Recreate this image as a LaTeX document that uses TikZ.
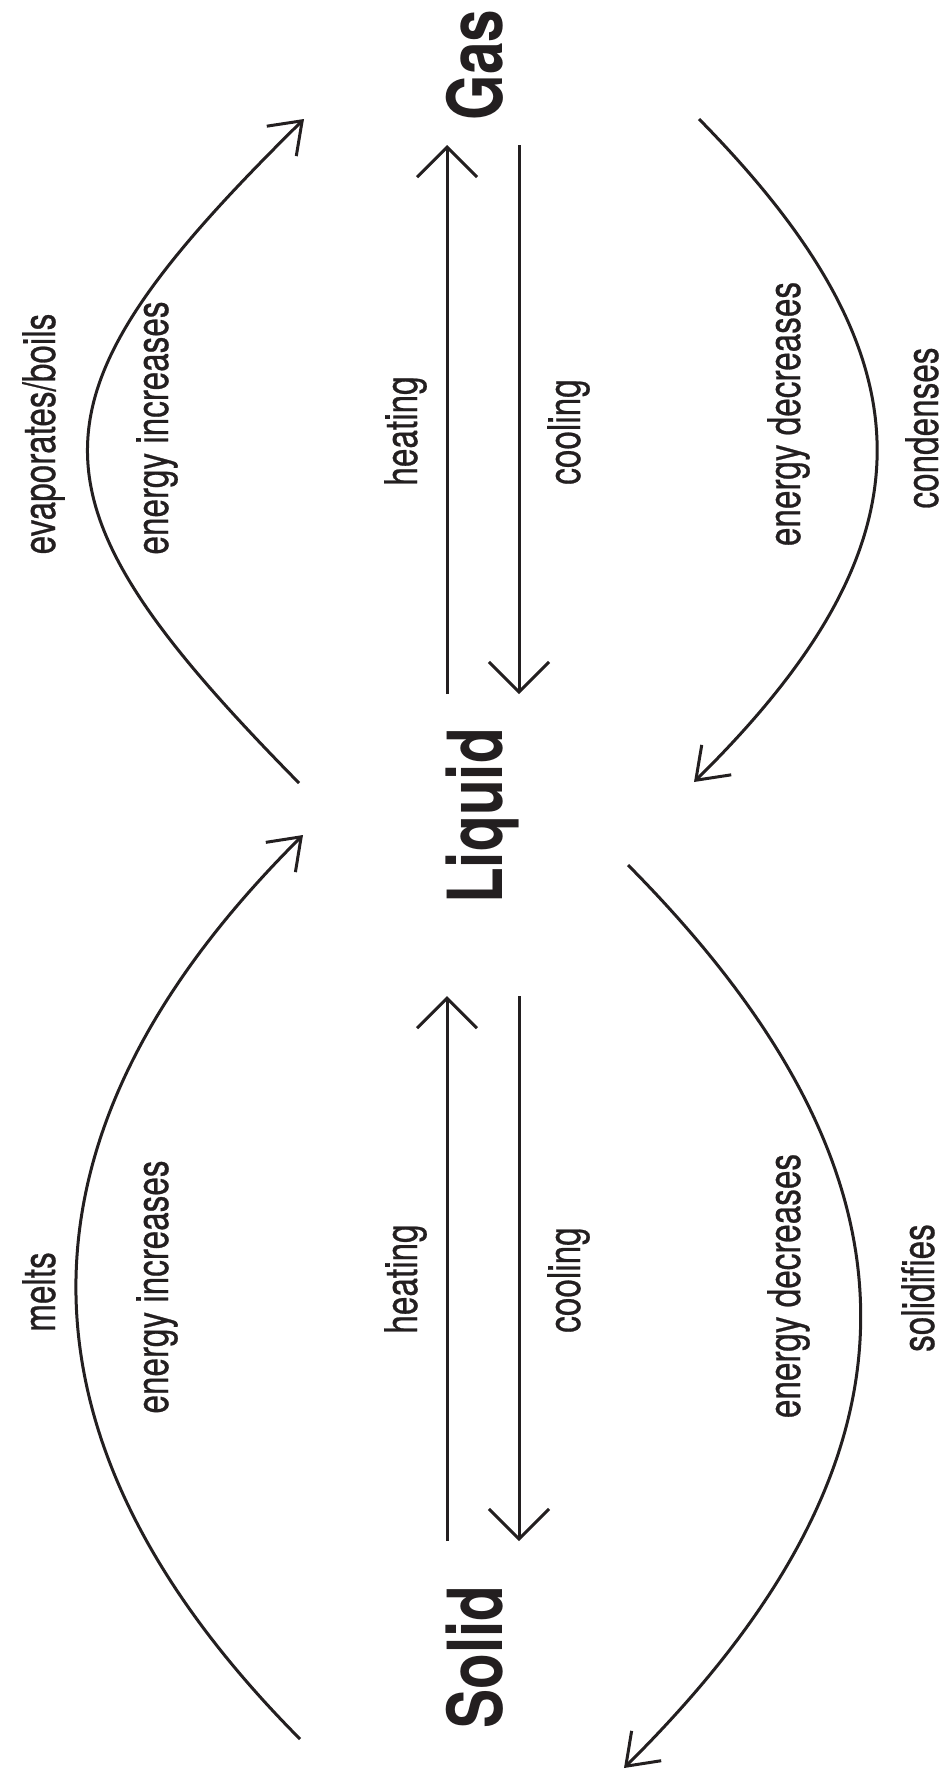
\documentclass[tikz,border=0pt]{standalone}
\usepackage{fontspec}
\setmainfont{TeX Gyre Heros}[FakeStretch=0.74, FakeBold=0.6]
\newfontfamily\phasefont{TeX Gyre Heros}[FakeStretch=0.77]
\usepackage{tikz}
\usetikzlibrary{arrows.meta}
\definecolor{ink}{HTML}{231F20}

\tikzset{
	phase/.style={rotate=90, anchor=base, inner sep=0pt, text=ink, font=\phasefont\bfseries\fontsize{76}{80}\selectfont},
	lbl/.style={rotate=90, anchor=base, inner sep=0pt, text=ink, font=\fontsize{45}{54}\selectfont},
	straight/.style={draw=ink, line width=3pt, -{Straight Barb[length=30pt,width=60pt]}},
	curved/.style={draw=ink, line width=3pt, -{Straight Barb[length=29pt,width=42pt]}}
}

\begin{document}
\begin{tikzpicture}[x=1pt, y=1pt]
	\useasboundingbox (0,0) rectangle (946,-1770);

	\node[phase] (gas) at (502, -65)     {Gas};
	\node[phase] (liquid) at (502, -816)     {Liquid};
	\node[phase] (solid) at (502, -1657)     {Solid};

	\coordinate (ev-s) at (299, -783);
	\coordinate (ev-e) at (304, -119);
	\coordinate (mt-s) at (300, -1739);
	\coordinate (mt-e) at (303, -835);
	\coordinate (cd-s) at (699, -119);
	\coordinate (cd-e) at (694, -782);
	\coordinate (sd-s) at (628, -865);
	\coordinate (sd-e) at (624, -1768);

	\coordinate (ha-s) at (447, -694);
	\coordinate (ha-e) at (447, -145);
	\coordinate (ca-s) at (519, -145);
	\coordinate (ca-e) at (519, -694);
	\coordinate (hb-s) at (447, -1541);
	\coordinate (hb-e) at (447, -996);
	\coordinate (cb-s) at (519, -996);
	\coordinate (cb-e) at (519, -1541);

	\path (ha-s) edge[straight] (ha-e);
	\path (ca-s) edge[straight] (ca-e);
	\path (hb-s) edge[straight] (hb-e);
	\path (cb-s) edge[straight] (cb-e);

	\path (ev-s) edge [curved, bend left=45, looseness=1.55] (ev-e);
	\path (mt-s) edge [curved, bend left=45, looseness=1.2] (mt-e);
	\path (cd-s) edge [curved, bend left=45, looseness=1.31] (cd-e);
	\path (sd-s) edge [curved, bend left=45, looseness=1.25] (sd-e);

	\node[lbl] (evap) at (55, -434)     {evaporates/boils};
	\node[lbl] (inc-a) at (168, -428)     {energy increases};
	\node[lbl] (heat-a) at (417, -431)     {heating};
	\node[lbl] (cool-a) at (580, -432)     {cooling};
	\node[lbl] (dec-a) at (800, -414)     {energy decreases};
	\node[lbl] (cond) at (938, -428)     {condenses};
	\node[lbl] (melt) at (55, -1292)     {melts};
	\node[lbl] (inc-b) at (168, -1287)     {energy increases};
	\node[lbl] (heat-b) at (417, -1279)     {heating};
	\node[lbl] (cool-b) at (580, -1280)     {cooling};
	\node[lbl] (dec-b) at (800, -1286)     {energy decreases};
	\node[lbl] (solidif) at (934, -1288)     {solidifies};

\end{tikzpicture}
\end{document}
